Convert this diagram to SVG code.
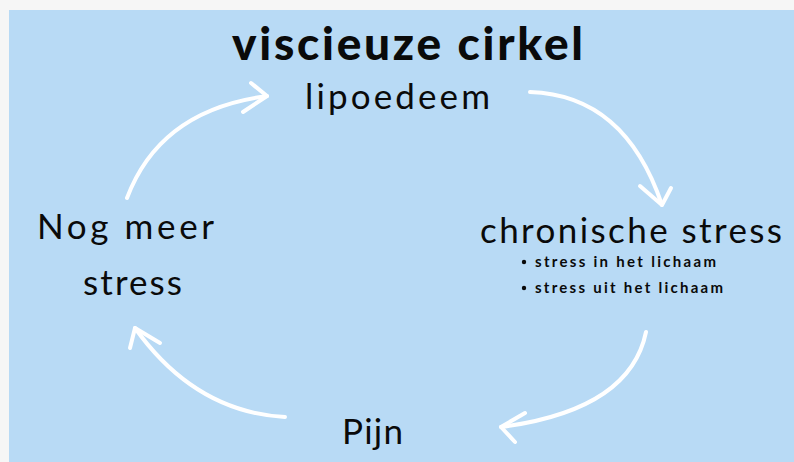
<svg xmlns="http://www.w3.org/2000/svg" width="794" height="462" viewBox="0 0 794 462">
  <defs>
    <style>
      .lbl { font-family: "Lato", "Noto Sans", "Liberation Sans", sans-serif; fill: #0a0a0a; }
      .title { font-size: 46px; font-weight: 900; }
      .mid { font-size: 35px; font-weight: 400; }
      .small { font-size: 15px; font-weight: 700; }
      .arrow { fill: none; stroke: #ffffff; stroke-width: 4; stroke-linecap: round; stroke-linejoin: round; }
    </style>
  </defs>

  <!-- page frame and panel -->
  <rect x="0" y="0" width="794" height="462" fill="#f6f6f6"/>
  <rect x="9" y="10" width="785" height="452" fill="#b8daf5"/>

  <g id="title">
    <text class="lbl title" x="232" y="60" textLength="351" lengthAdjust="spacing">viscieuze cirkel</text>
  </g>

  <g id="lipoedeem">
    <text class="lbl mid" x="305" y="109" textLength="185" lengthAdjust="spacing">lipoedeem</text>
  </g>

  <g id="chronische-stress">
    <text class="lbl mid" x="480" y="243" textLength="302" lengthAdjust="spacing">chronische stress</text>
    <circle cx="524" cy="262" r="2.2" fill="#0a0a0a"/>
    <text class="lbl small" x="535" y="267" textLength="181" lengthAdjust="spacing">stress in het lichaam</text>
    <circle cx="524" cy="288" r="2.2" fill="#0a0a0a"/>
    <text class="lbl small" x="535" y="293" textLength="188" lengthAdjust="spacing">stress uit het lichaam</text>
  </g>

  <g id="pijn">
    <text class="lbl mid" x="342" y="444" textLength="61" lengthAdjust="spacing">Pijn</text>
  </g>

  <g id="nog-meer-stress">
    <text class="lbl mid" x="37" y="239" textLength="177" lengthAdjust="spacing">Nog meer</text>
    <text class="lbl mid" x="83" y="295" textLength="99" lengthAdjust="spacing">stress</text>
  </g>

  <g id="connectors">
    <!-- lipoedeem to chronische stress -->
    <path class="arrow" d="M530,92 Q625,95 662,205"/>
    <path class="arrow" d="M640,186 L662,205 L671,188"/>
    <!-- chronische stress to pijn -->
    <path class="arrow" d="M646,332 Q630,410 501,427"/>
    <path class="arrow" d="M525,413 L501,427 L515,442"/>
    <!-- pijn to nog meer stress -->
    <path class="arrow" d="M285,417 Q195,412 135,328"/>
    <path class="arrow" d="M160,343 L135,328 L130,348"/>
    <!-- nog meer stress to lipoedeem -->
    <path class="arrow" d="M127,198 Q160,110 267,96"/>
    <path class="arrow" d="M251,83 L267,96 L243,112"/>
  </g>
</svg>
